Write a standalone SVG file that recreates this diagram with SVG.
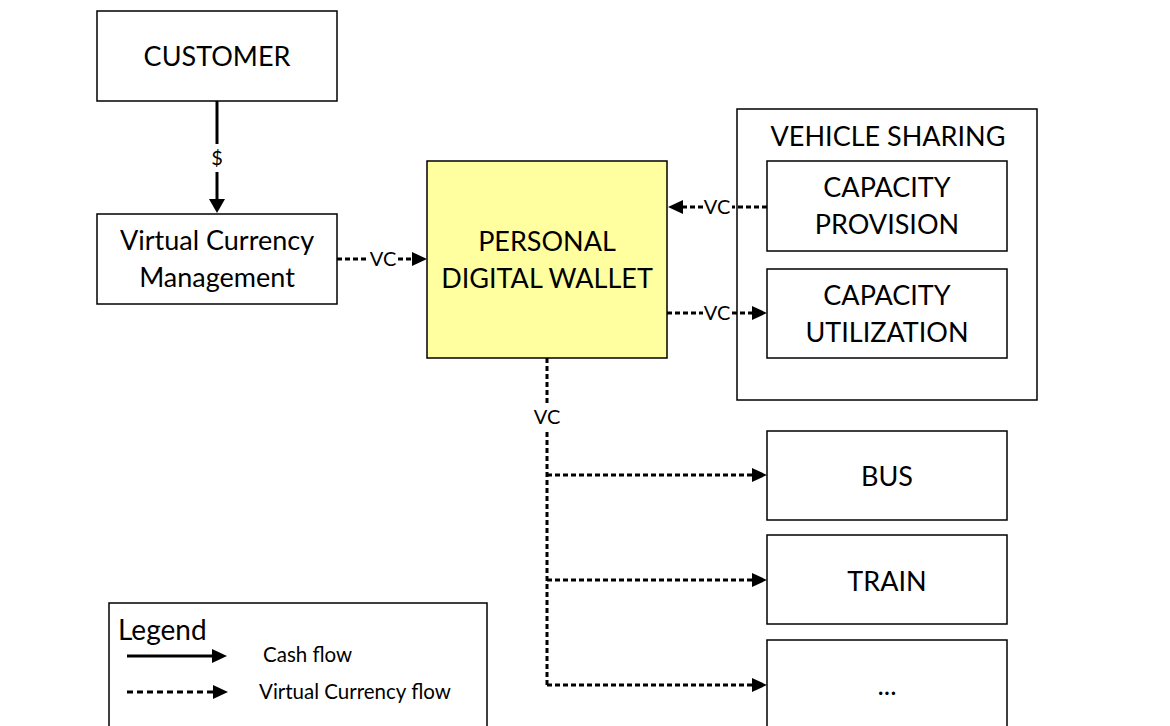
<svg xmlns="http://www.w3.org/2000/svg" width="1170" height="726" viewBox="0 0 1170 726">
<defs>
<style>
.box{fill:#fff;stroke:#000;stroke-width:1.5}
.wallet{fill:#ffff9f;stroke:#000;stroke-width:1.5}
.t{font-family:Lato,"Liberation Sans",sans-serif;font-size:27px;fill:#000;text-anchor:middle}
.s{font-family:Lato,"Liberation Sans",sans-serif;font-size:20px;fill:#000;text-anchor:middle}
.l{font-family:Lato,"Liberation Sans",sans-serif;font-size:20.5px;fill:#000}
.solid{stroke:#000;stroke-width:3;fill:none}
.dash{stroke:#000;stroke-width:3;fill:none;stroke-dasharray:5 3}
.head{fill:#000}
</style>
</defs>
<rect width="1170" height="726" fill="#fff"/>
<g id="customer">
<rect class="box" x="97" y="11" width="240" height="90"/>
<text class="t" x="217" y="66">CUSTOMER</text>
</g>
<g id="vcm">
<rect class="box" x="97" y="214" width="240" height="90"/>
<text class="t" x="217" y="250">Virtual Currency</text>
<text class="t" x="217" y="287">Management</text>
</g>
<g id="wallet">
<rect class="wallet" x="427" y="161" width="240" height="197"/>
<text class="t" x="547" y="251">PERSONAL</text>
<text class="t" x="547" y="288">DIGITAL WALLET</text>
</g>
<g id="vehicle-sharing">
<rect class="box" x="737" y="109" width="300" height="291"/>
<text class="t" x="888" y="146">VEHICLE SHARING</text>
</g>
<g id="capacity-provision">
<rect class="box" x="767" y="161" width="240" height="90"/>
<text class="t" x="887" y="197">CAPACITY</text>
<text class="t" x="887" y="234">PROVISION</text>
</g>
<g id="capacity-utilization">
<rect class="box" x="767" y="269" width="240" height="89"/>
<text class="t" x="887" y="305">CAPACITY</text>
<text class="t" x="887" y="342">UTILIZATION</text>
</g>
<g id="bus">
<rect class="box" x="767" y="431" width="240" height="89"/>
<text class="t" x="887" y="486">BUS</text>
</g>
<g id="train">
<rect class="box" x="767" y="535" width="240" height="89"/>
<text class="t" x="887" y="591">TRAIN</text>
</g>
<g id="more">
<rect class="box" x="767" y="640" width="240" height="100"/>
<text class="t" x="887" y="695">...</text>
</g>
<g id="legend">
<rect class="box" x="109" y="603" width="378" height="140"/>
<text class="l" x="118" y="640" style="font-size:28px">Legend</text>
<line class="solid" x1="127" y1="656" x2="212" y2="656"/>
<polygon class="head" points="212,649 227,656 212,663"/>
<text class="l" x="263" y="662">Cash flow</text>
<line class="dash" x1="127" y1="692" x2="213" y2="692" style="stroke-dasharray:6 4"/>
<polygon class="head" points="213,685 228,692 213,699"/>
<text class="l" x="259" y="699">Virtual Currency flow</text>
</g>
<g id="connectors">
<line class="solid" x1="217" y1="101" x2="217" y2="144"/>
<text class="s" x="217" y="165">$</text>
<line class="solid" x1="217" y1="172" x2="217" y2="200"/>
<polygon class="head" points="209,199 225,199 217,213"/>
<line class="dash" x1="337" y1="259" x2="369" y2="259"/>
<text class="s" x="383" y="266">VC</text>
<line class="dash" x1="398" y1="259" x2="413" y2="259"/>
<polygon class="head" points="412,252 427,259 412,266"/>
<line class="dash" x1="767" y1="207" x2="732" y2="207"/>
<text class="s" x="717" y="214">VC</text>
<line class="dash" x1="703" y1="207" x2="683" y2="207"/>
<polygon class="head" points="683,200 668,207 683,214"/>
<line class="dash" x1="667" y1="313" x2="703" y2="313"/>
<text class="s" x="717" y="320">VC</text>
<line class="dash" x1="732" y1="313" x2="753" y2="313"/>
<polygon class="head" points="752,306 767,313 752,320"/>
<line class="dash" x1="547" y1="358" x2="547" y2="403"/>
<text class="s" x="547" y="424">VC</text>
<path class="dash" d="M547,432 V686"/>
<line class="dash" x1="547" y1="475" x2="753" y2="475"/>
<polygon class="head" points="752,468 767,475 752,482"/>
<line class="dash" x1="547" y1="580" x2="753" y2="580"/>
<polygon class="head" points="752,573 767,580 752,587"/>
<line class="dash" x1="547" y1="685" x2="753" y2="685"/>
<polygon class="head" points="752,678 767,685 752,692"/>
</g>
</svg>
